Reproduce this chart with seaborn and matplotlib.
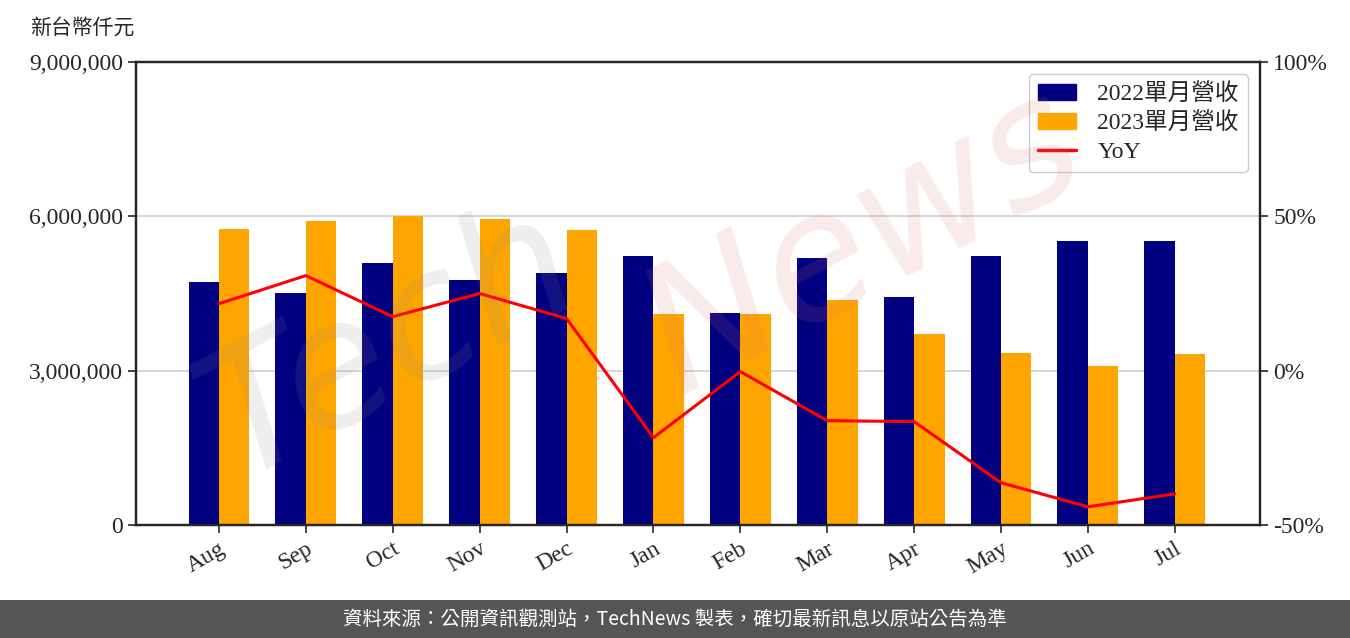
import pandas as pd
import matplotlib.pyplot as plt
import seaborn as sns
from matplotlib.patches import Rectangle, Patch
from matplotlib.lines import Line2D
from matplotlib.ticker import FuncFormatter

# monthly revenue, NT$ thousand
months = ['Aug', 'Sep', 'Oct', 'Nov', 'Dec', 'Jan', 'Feb', 'Mar', 'Apr', 'May', 'Jun', 'Jul']
rev_2022 = [4720000, 4510000, 5090000, 4760000, 4900000, 5230000, 4120000, 5190000, 4430000, 5230000, 5520000, 5520000]
rev_2023 = [5750000, 5910000, 6010000, 5950000, 5730000, 4100000, 4100000, 4370000, 3710000, 3340000, 3090000, 3320000]
yoy = [21.7, 30.8, 17.5, 25.0, 16.9, -21.7, -0.3, -16.2, -16.5, -36.3, -44.1, -39.9]

sns.set_style("white")
plt.rcParams['font.family'] = ['Liberation Serif', 'Noto Sans CJK TC', 'DejaVu Sans']

bars_df = pd.DataFrame({
    'month': months * 2,
    'rev': rev_2022 + rev_2023,
    'series': ['2022單月營收'] * 12 + ['2023單月營收'] * 12,
})

fig, ax = plt.subplots(figsize=(13.5, 6.38), dpi=100)
fig.subplots_adjust(left=0.1007, right=0.9333, top=0.9028, bottom=0.1771)

sns.barplot(data=bars_df, x='month', y='rev', hue='series', palette=['#000080', '#FFA500'],
            width=0.7, saturation=1, linewidth=0, ax=ax, legend=False, zorder=2)
ax.set_ylim(0, 9000000)
ax.set_yticks([0, 3000000, 6000000, 9000000])
ax.yaxis.set_major_formatter(FuncFormatter(lambda v, p: f'{int(v):,}'))
ax.set_xlim(-0.955, 11.98)
ax.grid(axis='y', color='#d0d0d0', linewidth=1.2, zorder=0)
ax.set_axisbelow(True)
ax.set_xlabel('')
ax.set_ylabel('')
ax.tick_params(axis='both', labelsize=17, length=6, width=1.2, direction='out', left=True, bottom=True)
for lbl in ax.get_xticklabels():
    lbl.set_rotation(30)
    lbl.set_ha('right')
    lbl.set_rotation_mode('anchor')
for s in ax.spines.values():
    s.set_linewidth(1.6)
    s.set_color('black')

ax2 = ax.twinx()
sns.lineplot(x=list(range(len(months))), y=yoy, color='red', linewidth=2.2, ax=ax2)
ax2.set_ylim(-50, 100)
ax2.set_yticks([-50, 0, 50, 100])
ax2.yaxis.set_major_formatter(FuncFormatter(lambda v, p: f'{int(v)}%'))
ax2.tick_params(axis='y', labelsize=17, length=6, width=1.2, right=True)
for s in ax2.spines.values():
    s.set_linewidth(1.6)

# watermark
fig.text(0.29, 0.46, 'Tech', fontsize=125, color='#888888', alpha=0.14, rotation=28,
         ha='center', va='center', family='DejaVu Sans', style='italic')
fig.text(0.64, 0.62, 'News', fontsize=125, color='#e07070', alpha=0.14, rotation=28,
         ha='center', va='center', family='DejaVu Sans', style='italic')

fig.text(0.022, 0.957, '新台幣仟元', fontsize=15, ha='left', va='center',
         family=['Noto Sans CJK TC'])

# legend
handles = [Patch(color='#000080'), Patch(color='#FFA500'), Line2D([], [], color='red', linewidth=2.5)]
ax2.legend(handles, ['2022單月營收', '2023單月營收', 'YoY'], loc='upper right',
           fontsize=17, frameon=True, fancybox=True, edgecolor='#cccccc', framealpha=1,
           borderaxespad=0.5, handlelength=1.6, handletextpad=0.9, labelspacing=0.3)

# footer band
fig.patches.append(Rectangle((0, 0), 1, 38 / 638, transform=fig.transFigure,
                             facecolor='#555555', edgecolor='none', zorder=0))
fig.text(0.5, 19 / 638, '資料來源：公開資訊觀測站，TechNews 製表，確切最新訊息以原站公告為準',
         color='white', fontsize=14, ha='center', va='center', family=['Noto Sans CJK TC'])

plt.savefig('out.png', dpi=100)
plt.close()
